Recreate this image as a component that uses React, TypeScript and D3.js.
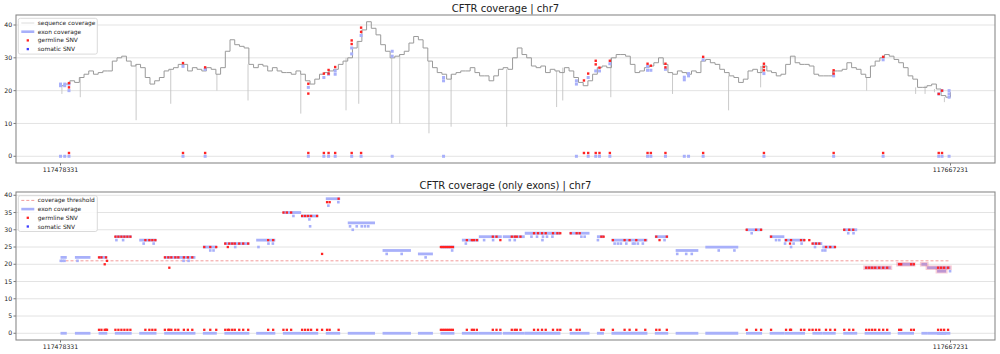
import React from 'react';
import * as d3 from 'd3';

// CFTR region on chr7
const START = 117478331;
const END = 117667231;
const SPAN_KB = (END - START) / 1000;
const COVERAGE_THRESHOLD = 21;

// sequence coverage, one value per kb from START
const seqCoverage = [
  21.5, 22, 23, 22.5, 24, 25, 26, 25, 25.5, 26,
  26, 29, 30, 30.5, 29, 27.5, 28, 27, 24, 22,
  23, 24, 26, 26.5, 27, 28, 28, 26, 27, 26.5,
  26, 27, 26.5, 25, 27, 32, 35.5, 34, 33.5, 33,
  28, 27, 28, 27.5, 26, 27, 26, 25.5, 25.5, 25,
  26, 25, 23, 22, 23.5, 25, 25.5, 26, 26.5, 28,
  29, 30, 33, 35, 38.5, 41, 39, 37, 34, 32,
  30, 30.5, 31, 32, 34.5, 36.5, 35.5, 33, 29, 27,
  25.5, 25, 23.5, 25, 25.5, 26, 26, 27, 25.5, 24.5,
  24.5, 23, 24.5, 26.5, 27, 26.5, 30, 33, 31, 30,
  27.5, 27, 27.5, 25.5, 26.5, 26, 25.5, 27, 26, 24,
  22.5, 21.5, 23, 25, 27, 27.5, 27, 30, 31, 31,
  30.5, 28, 25.5, 26, 27, 27.5, 28.5, 30, 28, 25.5,
  25, 26, 25.5, 25, 26, 25.5, 29, 29.5, 28.5, 28,
  26.5, 25.5, 24.5, 24, 22.5, 23.5, 26, 26.5, 25.5, 27.5,
  26, 25.5, 24.5, 25, 28, 30.5, 28.5, 28, 28, 27.5,
  25, 24.5, 24.5, 24.5, 26, 26, 26.5, 28.5, 27, 26.5,
  25, 24, 27.5, 29, 30, 31, 30.5, 29.5, 28.5, 27,
  24.5, 23.5, 21, 21, 21.5, 22, 20.5, 18.5, 18, 19.5,
];

// short coverage drops [kb, coverage]
const coverageDips = [
  [0.3, 19], [4.2, 18], [16.05, 11], [23.4, 16], [33.2, 20], [39.8, 17],
  [51.0, 13], [60.6, 14], [63.3, 16], [70.3, 10], [72.0, 10], [78.2, 7],
  [82.9, 9], [94.7, 9], [105.3, 15], [106.6, 17], [116.8, 18], [129.9, 19],
  [141.8, 14], [148.6, 21], [171.1, 20], [181.5, 19], [183.5, 19],
  [185.5, 19.5], [187.6, 16.5],
];

// exon coverage on the genomic axis [kb, coverage]
const exonCovGenomic = [
  [0, 22], [0, 21.5], [0.9, 22], [0.9, 21.5], [1.8, 22], [1.8, 20],
  [26.0, 27.4], [30.7, 26.5],
  [52.6, 21], [55.9, 24], [56.9, 25], [58.3, 26], [58.3, 25], [61.8, 33], [61.8, 31.2], [63.8, 36.8],
  [70.4, 32], [70.4, 30.5], [81.3, 24], [81.3, 23],
  [109.5, 23], [109.5, 22], [112.0, 24], [113.6, 26], [114.4, 26], [116.6, 28.2],
  [124.6, 27.4], [124.6, 26.2], [125.3, 26.2], [128.4, 26.5], [132.4, 24.1], [132.4, 23.3],
  [133.3, 25.2], [133.3, 24.5], [136.4, 29.4],
  [149.3, 25.2], [164.1, 24.5], [174.6, 29.4], [186.4, 19], [187.1, 20],
  [188.6, 20], [188.6, 19], [188.6, 18],
];

// germline SNVs on the genomic axis [kb, coverage]
const germlineGenomic = [
  [1.8, 22.3], [1.8, 21], [26.0, 28.4], [30.7, 27.1], [52.6, 22.1], [52.6, 19.1],
  [55.9, 25.2], [56.9, 26.3], [56.9, 25.2], [58.3, 27.2], [61.8, 35.3], [61.8, 34.2],
  [63.8, 39.2], [63.8, 37.9],
  [111.1, 23.1], [112.0, 25.2], [113.6, 29.1], [113.6, 28], [114.4, 27], [116.6, 29.1],
  [124.6, 28.2], [125.3, 27.6], [128.4, 28.2], [128.4, 27.1], [136.4, 30.3],
  [149.3, 28.2], [149.3, 27.2], [149.3, 26.2], [164.1, 26.2], [164.1, 25.2],
  [174.6, 30.3], [186.4, 19], [187.1, 20],
];

// exons concatenated: start, end (exon base index), mean coverage
const exonStart = [0, 101, 267, 381, 552, 727, 998, 1149, 1372, 1559, 1687, 1860, 2014, 2258, 2506, 2664, 2814, 2933, 3101, 3255, 3570, 3761, 3863, 4167, 4313, 4521, 4806, 4972, 5075, 5272, 5341, 5488, 5638, 5870, 6036, 6076, 6146];
const exonEnd = [44, 210, 328, 499, 673, 946, 1096, 1324, 1506, 1687, 1807, 1961, 2205, 2457, 2611, 2762, 2933, 3094, 3255, 3505, 3709, 3810, 4115, 4261, 4472, 4752, 4919, 5075, 5220, 5341, 5435, 5586, 5821, 5984, 6076, 6239, 6209];
const exonLevel = [22, 22, 22, 28, 27, 22, 25, 26, 27, 35, 34, 39, 32, 24, 23, 25, 27, 28, 28, 29, 29, 28, 27, 28, 24, 25, 30, 28, 27, 26, 25, 30, 19, 20, 20, 19, 18];
const EXON_TOTAL = 6240;

// per-base coverage that falls below the exon mean [index, coverage]
const exonLowCov = [
  [2, 21], [14, 21], [28, 21], [119, 21], [392, 27], [439, 27], [583, 26], [653, 26],
  [863, 21], [898, 21], [1050, 24], [1073, 24], [1225, 25], [1388, 25], [1458, 26], [1489, 26],
  [1633, 34], [1745, 33], [1750, 31], [1878, 37], [1948, 38],
  [2030, 31], [2049, 30], [2077, 31], [2112, 31], [2135, 31], [2158, 31],
  [2287, 23], [2392, 23], [2560, 22], [2746, 24], [2842, 26], [2970, 27], [3033, 27],
  [3150, 27], [3185, 27], [3302, 28], [3341, 28], [3379, 27], [3383, 28], [3411, 28], [3449, 28],
  [3652, 28], [3675, 28], [3768, 27],
  [3885, 26], [3908, 26], [3929, 26], [3967, 26], [4013, 26], [4025, 26], [4048, 26], [4083, 26],
  [4235, 27], [4324, 23], [4387, 23], [4426, 23], [4615, 24], [4725, 24], [4846, 29],
  [5017, 27], [5040, 27], [5080, 26], [5122, 25], [5140, 26], [5196, 26], [5290, 25],
  [5343, 24], [5362, 24], [5523, 29], [5560, 29], [6237, 18],
];

// germline SNVs on the exon axis [index, coverage]
const germlineExon = [
  [270, 22], [287, 22], [310, 20], [319, 22], [326, 21],
  [385, 28], [406, 28], [427, 28], [448, 28], [469, 28], [490, 28],
  [595, 27], [623, 27], [644, 27], [665, 27],
  [732, 22], [756, 22], [763, 19], [777, 22], [805, 22], [826, 22], [865, 22], [893, 22], [924, 22],
  [1008, 25], [1050, 25], [1092, 25],
  [1155, 26], [1173, 25], [1183, 26], [1204, 26], [1222, 26], [1253, 26], [1281, 26], [1316, 26],
  [1456, 27], [1491, 27],
  [1563, 35], [1587, 35], [1617, 35],
  [1694, 34], [1715, 34], [1736, 34], [1757, 34], [1799, 34],
  [1834, 23], [1869, 38], [1887, 38], [1950, 39],
  [2667, 25], [2681, 25], [2695, 25], [2709, 25], [2723, 25], [2737, 25], [2751, 25],
  [2849, 27], [2884, 27], [2898, 27], [2919, 27],
  [3031, 28], [3057, 28], [3084, 27],
  [3164, 28], [3185, 28], [3199, 28], [3225, 28],
  [3320, 29], [3348, 29], [3376, 29], [3402, 29], [3453, 29], [3484, 29], [3504, 29],
  [3577, 29], [3619, 29], [3640, 29], [3792, 28], [3808, 28],
  [3873, 27], [3955, 27], [3990, 27], [4037, 27], [4100, 27],
  [4177, 28], [4200, 27], [4251, 28],
  [4811, 30], [4877, 30], [4912, 30], [4982, 28],
  [5087, 27], [5115, 26], [5122, 27], [5192, 27], [5215, 27], [5250, 27],
  [5273, 26], [5297, 26], [5320, 26], [5367, 25], [5397, 25], [5430, 25],
  [5495, 30], [5530, 30], [5558, 30],
  [5649, 19], [5670, 19], [5691, 19], [5712, 19], [5740, 19], [5768, 19], [5796, 19],
  [5880, 20], [5894, 20], [5964, 20], [5983, 20],
  [6153, 19], [6174, 19], [6195, 19], [6223, 19],
];

const yTicksTop = [0, 10, 20, 30, 40];
const yTicksBottom = [0, 5, 10, 15, 20, 25, 30, 35, 40];
const xTickLabels = [String(START), String(END)];

const FONT = 'DejaVu Sans, sans-serif';
const EXON_BLUE = 'rgb(168,176,250)';
const RED = '#ff2323';
const SOMATIC = '#3c3cff';
const TEXT = '#222';

const padded = (lo: number, hi: number): [number, number] => {
  const m = (hi - lo) * 0.05;
  return [lo - m, hi + m];
};

const Square = ({ x, y, s, fill }: { x: number; y: number; s: number; fill: string }) => (
  <rect x={x - s / 2} y={y - s / 2} width={s} height={s} fill={fill} />
);

function Frame({ l, r, t, b, y, ticks, xs, title }: any) {
  return (
    <g>
      {ticks.map((v: number) => (
        <g key={v}>
          <line x1={l} x2={r} y1={y(v)} y2={y(v)} stroke="#e3e3e3" strokeWidth={1} />
          <line x1={l - 2.5} x2={l} y1={y(v)} y2={y(v)} stroke="#555" strokeWidth={0.8} />
          <text x={l - 3.8} y={y(v)} dy="0.35em" textAnchor="end" fontSize={6.2} fill={TEXT}>{v}</text>
        </g>
      ))}
      {xs.map((d: any, i: number) => (
        <g key={i}>
          <line x1={d.x} x2={d.x} y1={b} y2={b + 2.5} stroke="#555" strokeWidth={0.8} />
          <text x={d.x} y={b + 9} textAnchor="middle" fontSize={6.2} fill={TEXT}>{d.label}</text>
        </g>
      ))}
      <text x={(l + r) / 2} y={t - 3.5} textAnchor="middle" fontSize={10} fill={TEXT}>{title}</text>
    </g>
  );
}

function Legend({ x, y, items }: any) {
  const rowH = 8.7;
  return (
    <g>
      <rect x={x} y={y} width={79} height={items.length * rowH + 1} rx={2}
        fill="white" fillOpacity={0.85} stroke="#d0d0d0" strokeWidth={0.8} />
      {items.map((it: any, i: number) => {
        const cy = y + 4.7 + i * rowH;
        return (
          <g key={it.label}>
            {it.kind === 'line' && (
              <line x1={x + 3} x2={x + 16} y1={cy} y2={cy} stroke={it.color}
                strokeWidth={it.width} strokeDasharray={it.dash || null} />
            )}
            {it.kind === 'marker' && <Square x={x + 9.5} y={cy} s={2.3} fill={it.color} />}
            <text x={x + 19.5} y={cy} dy="0.35em" fontSize={5.9} fill={TEXT}>{it.label}</text>
          </g>
        );
      })}
    </g>
  );
}

export default function App() {
  const L = 16, R = 995;
  const T1 = 15, B1 = 163;
  const T2 = 192, B2 = 340;

  // top panel: genomic coordinates
  const x1 = d3.scaleLinear().domain(padded(0, SPAN_KB)).range([L, R]);
  const y1 = d3.scaleLinear().domain(padded(0, d3.max(seqCoverage) as number)).range([B1, T1]);
  const kbOf = (i: number) => (i * SPAN_KB) / (seqCoverage.length - 1);
  const covLine = d3.line<number>()
    .x((_, i) => x1(kbOf(i)))
    .y((d) => y1(d))
    .curve(d3.curveStepAfter);
  const covAt = (kb: number) => seqCoverage[Math.min(seqCoverage.length - 1, Math.round(kb))];

  const exonKbs = Array.from(new Set(exonCovGenomic.map((d) => d[0])));
  const germKbs = Array.from(new Set(germlineGenomic.map((d) => d[0])));

  // bottom panel: exon-only index axis
  const x2 = d3.scaleLinear().domain(padded(0, EXON_TOTAL)).range([L, R]);
  const y2 = d3.scaleLinear().domain(padded(0, d3.max(exonLevel) as number)).range([B2, T2]);
  const germIdx = Array.from(new Set(germlineExon.map((d) => d[0])));

  return (
    <svg width={1000} height={354} style={{ position: 'absolute', left: 0, top: 0, background: 'white' }}
      fontFamily={FONT}>
      {/* ---------- top panel ---------- */}
      <Frame l={L} r={R} t={T1} b={B1} y={y1} ticks={yTicksTop}
        xs={[{ x: x1(0), label: xTickLabels[0] }, { x: x1(SPAN_KB), label: xTickLabels[1] }]}
        title="CFTR coverage | chr7" />
      {coverageDips.map(([kb, v], i) => (
        <line key={i} x1={x1(kb)} x2={x1(kb)} y1={y1(covAt(kb))} y2={y1(v)} stroke="#c4c4c4" strokeWidth={0.9} />
      ))}
      <path d={covLine(seqCoverage) as string} fill="none" stroke="#9a9a9a" strokeWidth={1} />
      {exonCovGenomic.map(([kb, v], i) => (
        <Square key={'e' + i} x={x1(kb)} y={y1(v)} s={3} fill={EXON_BLUE} />
      ))}
      {germlineGenomic.map(([kb, v], i) => (
        <Square key={'g' + i} x={x1(kb)} y={y1(v)} s={2.4} fill={RED} />
      ))}
      {exonKbs.map((kb, i) => (
        <Square key={'e0' + i} x={x1(kb)} y={y1(0)} s={3} fill={EXON_BLUE} />
      ))}
      {germKbs.map((kb, i) => (
        <Square key={'g1' + i} x={x1(kb)} y={y1(1)} s={2.4} fill={RED} />
      ))}
      <rect x={L} y={T1} width={R - L} height={B1 - T1} fill="none" stroke="#8a8a8a" strokeWidth={1.1} />
      <Legend x={18.3} y={18.3} items={[
        { kind: 'line', label: 'sequence coverage', color: '#dcdcdc', width: 1 },
        { kind: 'line', label: 'exon coverage', color: EXON_BLUE, width: 2.6 },
        { kind: 'marker', label: 'germline SNV', color: RED },
        { kind: 'marker', label: 'somatic SNV', color: SOMATIC },
      ]} />

      {/* ---------- bottom panel ---------- */}
      <Frame l={L} r={R} t={T2} b={B2} y={y2} ticks={yTicksBottom}
        xs={[{ x: x2(0), label: xTickLabels[0] }, { x: x2(EXON_TOTAL), label: xTickLabels[1] }]}
        title="CFTR coverage (only exons) | chr7" />
      <line x1={x2(0)} x2={x2(EXON_TOTAL)} y1={y2(COVERAGE_THRESHOLD)} y2={y2(COVERAGE_THRESHOLD)}
        stroke="#f39a9a" strokeWidth={1} strokeDasharray="3,2" />
      {exonStart.map((s, i) => (
        <g key={'ex' + i}>
          <line x1={x2(s)} x2={x2(exonEnd[i])} y1={y2(exonLevel[i])} y2={y2(exonLevel[i])}
            stroke={EXON_BLUE} strokeWidth={2.8} />
          {exonLevel[i] < COVERAGE_THRESHOLD && (
            <line x1={x2(s) - 1.5} x2={x2(exonEnd[i]) + 1.5} y1={y2(exonLevel[i])} y2={y2(exonLevel[i])}
              stroke="rgb(235,90,120)" strokeOpacity={0.3} strokeWidth={4.6} />
          )}
          <line x1={x2(s)} x2={x2(exonEnd[i])} y1={y2(0)} y2={y2(0)} stroke={EXON_BLUE} strokeWidth={2.8} />
        </g>
      ))}
      {exonLowCov.map(([idx, v], i) => (
        <Square key={'l' + i} x={x2(idx)} y={y2(v)} s={2.6} fill={EXON_BLUE} />
      ))}
      {germlineExon.map(([idx, v], i) => (
        <Square key={'ge' + i} x={x2(idx)} y={y2(v)} s={2.3} fill={RED} />
      ))}
      {germIdx.map((idx, i) => (
        <Square key={'gb' + i} x={x2(idx)} y={y2(1)} s={2.3} fill={RED} />
      ))}
      <rect x={L} y={T2} width={R - L} height={B2 - T2} fill="none" stroke="#8a8a8a" strokeWidth={1.1} />
      <Legend x={18.3} y={195.7} items={[
        { kind: 'line', label: 'coverage threshold', color: '#f39a9a', width: 1, dash: '3,2' },
        { kind: 'line', label: 'exon coverage', color: EXON_BLUE, width: 2.6 },
        { kind: 'marker', label: 'germline SNV', color: RED },
        { kind: 'marker', label: 'somatic SNV', color: SOMATIC },
      ]} />
    </svg>
  );
}
